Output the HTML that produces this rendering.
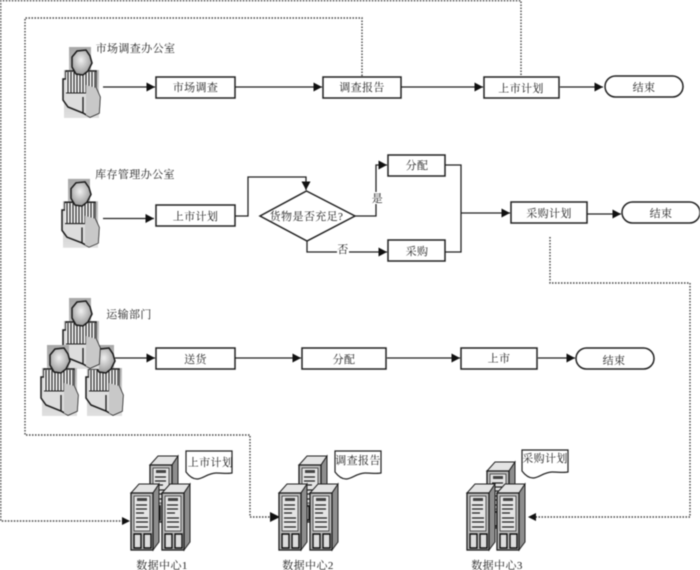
<!DOCTYPE html>
<html><head><meta charset="utf-8">
<style>
html,body{margin:0;padding:0;background:#fff;width:700px;height:570px;overflow:hidden}
svg{display:block;filter:blur(0.4px)}
text{font-family:"Liberation Serif","Noto Serif CJK SC",serif;font-size:11px;fill:#222;text-anchor:middle;letter-spacing:0.4px}
.s{fill:none;stroke:#222;stroke-width:1.3}
.d{fill:none;stroke:#444;stroke-width:1.4;stroke-dasharray:1.5 1.5}
.b{fill:#fff;stroke:#222;stroke-width:1.5}
</style></head><body>
<svg width="700" height="570" viewBox="0 0 700 570" xmlns="http://www.w3.org/2000/svg">
<defs>
<radialGradient id="hg" cx="45%" cy="40%" r="65%"><stop offset="0" stop-color="#f0f0f0"/><stop offset="1" stop-color="#909090"/></radialGradient>
<linearGradient id="bg" x1="0" y1="0" x2="0" y2="1"><stop offset="0" stop-color="#a8a8a8"/><stop offset="1" stop-color="#e0e0e0"/></linearGradient>
<marker id="a" markerWidth="9" markerHeight="9" refX="8.500" refY="4.500" orient="auto" markerUnits="userSpaceOnUse"><path d="M0,0L8.500,4.500L0,9Z" fill="#111"/></marker>
<g id="person">
<path d="M5,0H27V23H35V71H0V23H5Z" fill="url(#bg)"/>
<path d="M-1,32V53L4,60L19,66L26,70L35,66L36,50L32,41L32,24H2V32Z" fill="#ddd" stroke="#1a1a1a" stroke-width="1.500"/>
<rect x="2" y="25" width="30" height="21" fill="#eee"/>
<path d="M4,25V46M7,25V46M10,25V46M13,25V46M16,25V46M19,25V46M22,25V46M25,25V46M28,25V46M31,25V42M2,46H22M2,24H32" fill="none" stroke="#222" stroke-width="1.100"/>
<path d="M22,38L32,41L36,50L35,66L26,70L22,68Z" fill="#c8c8c8"/>
<path d="M19,50V66" stroke="#1a1a1a" stroke-width="1.300"/>
<path d="M13,4L22,3L26,9L28,16L24,24L19,28L12,27L8,20L8,10Z" fill="url(#hg)" stroke="#1a1a1a" stroke-width="1.500"/>
</g>
<g id="server">
<path d="M0,9L8,0H28L22,9Z" fill="#e4e4e4" stroke="#222"/>
<path d="M22,9L28,0V58L22,66Z" fill="#8e8e8e" stroke="#222"/>
<rect x="0" y="9" width="22" height="57" fill="#bcbcbc" stroke="#1a1a1a" stroke-width="1.300"/>
<rect x="3" y="12" width="16" height="35" fill="#e4e4e4" stroke="#333" stroke-width="0.800"/>
<rect x="6" y="14" width="10" height="3" fill="#444"/>
<path d="M5,21H16M5,25H16M5,29H13M5,34H17M5,38H17M5,43H17" stroke="#222" stroke-width="1.300"/>
<path d="M3,50H10V64H3ZM13,50H20V64H13Z" fill="#ddd" stroke="#111" stroke-width="1.400"/>
</g>
<path id="note" d="M0,0V21C3,25 7,28 11,28C17,28 22,22 30,22C36,22 42,23 46,22V0Z" fill="#fff" stroke="#222" stroke-width="1.200"/>
</defs>

<!-- dotted lines -->
<path class="d" d="M521,75V0.700H0.700V521H122"/>
<path class="d" d="M362,76V18H25V435H250V517H272"/>
<path class="d" d="M550,237V283H690V517H536"/>
<path d="M130,521L122,517V525Z" fill="#111"/>
<path d="M280,517L270,512V522Z" fill="#111"/>
<path d="M528,517L536,513V521Z" fill="#111"/>

<!-- persons -->
<use href="#person" x="64" y="47"/>
<use href="#person" x="63" y="179" transform="translate(0,5.300) scale(1,0.970)"/>
<use href="#person" x="87" y="345"/>
<use href="#person" x="64" y="298"/>
<use href="#person" x="42" y="345"/>

<!-- connectors -->
<g class="s">
<path d="M103,87H155" marker-end="url(#a)"/>
<path d="M235,87H322" marker-end="url(#a)"/>
<path d="M401,87H483" marker-end="url(#a)"/>
<path d="M560,87H603" marker-end="url(#a)"/>
<path d="M103,218.500H154" marker-end="url(#a)"/>
<path d="M235,216H248V177H306V190" marker-end="url(#a)"/>
<path d="M355,216H376V165H387" marker-end="url(#a)"/>
<path d="M307,240V252H387" marker-end="url(#a)"/>
<path d="M445,165H461V252H445"/>
<path d="M461,213H510" marker-end="url(#a)"/>
<path d="M587,214H621" marker-end="url(#a)"/>
<path d="M115,358H155" marker-end="url(#a)"/>
<path d="M235,358H301" marker-end="url(#a)"/>
<path d="M387,358H460" marker-end="url(#a)"/>
<path d="M538,358H575" marker-end="url(#a)"/>
</g>

<!-- row 1 -->
<rect class="b" x="156" y="77" width="79" height="21"/>
<rect class="b" x="323" y="77" width="78" height="21"/>
<rect class="b" x="484" y="77" width="75" height="21"/>
<rect class="b" x="605" y="76" width="78" height="21" rx="10.500"/>
<!-- row 2 -->
<rect class="b" x="156" y="205" width="79" height="21"/>
<path class="b" d="M306.500,191L355,216L307,241L260,216Z"/>
<rect class="b" x="388" y="155" width="57" height="21"/>
<rect class="b" x="388" y="240" width="57" height="21"/>
<rect class="b" x="511" y="202" width="76" height="21"/>
<rect class="b" x="622" y="202" width="78" height="21" rx="10.500"/>
<!-- row 3 -->
<rect class="b" x="156" y="348" width="79" height="21"/>
<rect class="b" x="302" y="348" width="84" height="21"/>
<rect class="b" x="461" y="348" width="76" height="21"/>
<rect class="b" x="576" y="348" width="78" height="21" rx="10.500"/>

<!-- servers -->
<use href="#server" x="150" y="456"/>
<use href="#server" x="131" y="484"/>
<use href="#server" x="162" y="484"/>
<use href="#note" x="186" y="451"/>
<use href="#server" x="299" y="456"/>
<use href="#server" x="279" y="484"/>
<use href="#server" x="310" y="484"/>
<use href="#note" x="335" y="451"/>
<use href="#server" x="487" y="462"/>
<use href="#server" x="467" y="484"/>
<use href="#server" x="497" y="484"/>
<use href="#note" x="522" y="450"/>

<!-- label backgrounds -->
<rect x="372" y="192" width="12" height="12" fill="#fff"/>
<rect x="337" y="246" width="12" height="11" fill="#fff"/>

<!-- text -->
<text x="135.500" y="52">市场调查办公室</text>
<text x="195.500" y="91">市场调查</text>
<text x="362" y="91">调查报告</text>
<text x="521" y="92">上市计划</text>
<text x="644" y="91">结束</text>
<text x="135" y="178">库存管理办公室</text>
<text x="195.500" y="220">上市计划</text>
<text x="306.500" y="220">货物是否充足?</text>
<text x="377.500" y="202">是</text>
<text x="343" y="253">否</text>
<text x="417" y="169">分配</text>
<text x="417" y="255">采购</text>
<text x="549" y="217">采购计划</text>
<text x="661" y="217">结束</text>
<text x="129" y="318">运输部门</text>
<text x="195.500" y="363">送货</text>
<text x="344" y="363">分配</text>
<text x="499" y="362">上市</text>
<text x="614" y="364">结束</text>
<text x="210.500" y="466">上市计划</text>
<text x="358" y="464">调查报告</text>
<text x="545" y="462">采购计划</text>
<text x="162" y="569">数据中心1</text>
<text x="308" y="569">数据中心2</text>
<text x="497" y="569">数据中心3</text>
</svg>
</body></html>
